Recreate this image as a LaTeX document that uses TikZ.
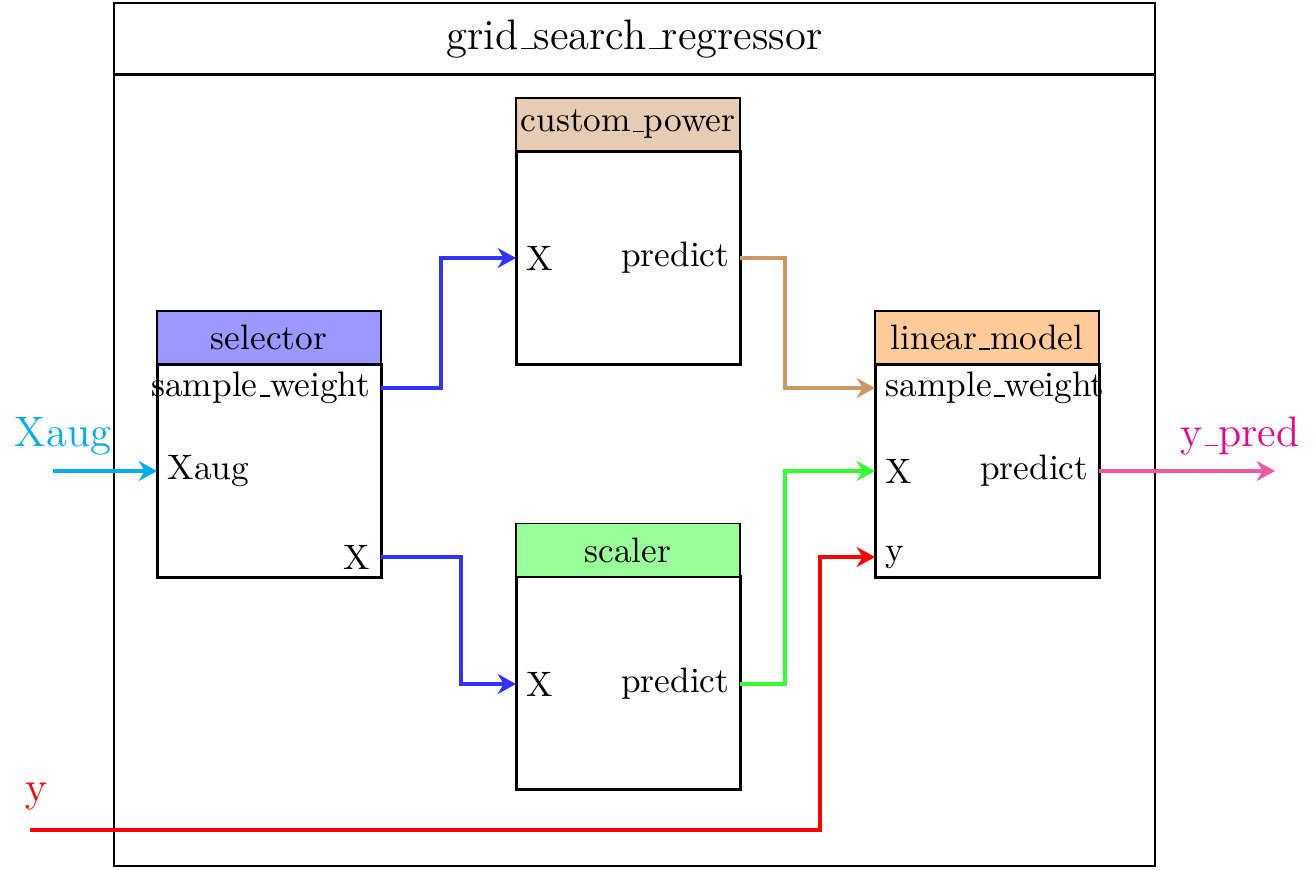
\documentclass[tikz,border=0pt]{standalone}
\usetikzlibrary{arrows.meta}
\definecolor{cyanp}{RGB}{0,174,239}
\definecolor{magp}{RGB}{236,0,140}
\definecolor{pinkarrow}{RGB}{238,90,160}
\newcommand{\us}{\leavevmode\kern.06em\vbox{\hrule width.3em}}
\begin{document}
\begin{tikzpicture}[x=0.3pt,y=-0.3pt,
  every node/.style={font=\fontsize{10.6}{12.7}\selectfont},
  big/.style={font=\fontsize{12.8}{15.4}\selectfont},
  body/.style={draw,line width=0.9pt,minimum width=67.2pt,minimum height=63.9pt,inner sep=0pt},
  head/.style={draw,line width=0.4pt,minimum width=67.2pt,minimum height=15.9pt,inner sep=0pt},
  pl/.style={anchor=west,inner sep=3pt},
  pr/.style={anchor=east,inner sep=3pt},
  conn/.style={line width=1.2pt,-{Stealth[length=5.5pt,width=6pt,inset=1.8pt]}}]
\useasboundingbox (0,0) rectangle (1314,869);
% outer box
\draw[line width=0.6pt] (114,3) rectangle (1155,866);
\coordinate (tl) at (114,74.5);
\coordinate (tr) at (1155,74.5);
\draw[line width=1pt] (tl) -- (tr);
\node[big] (title) at (634.5,39) {grid\us search\us regressor};
% blocks
\node[body] (sel) at (269,470.5) {};
\node[head,fill=blue!40] (selh) at (269,337.5) {selector};
\node[body] (cp) at (628,257.5) {};
\node[head,fill=brown!40] (cph) at (628,124.5) {custom\us power};
\node[body] (sc) at (628,683) {};
\node[head,fill=green!40] (sch) at (628,550) {scaler};
\node[body] (lm) at (987,470.5) {};
\node[head,fill=orange!40] (lmh) at (987,337.5) {linear\us model};
% ports
\node[pr] (selsw) at (381,388) {sample\us weight};
\node[pl] (selxa) at (157,471) {Xaug};
\node[pr] (selx) at (381,557) {X};
\node[pl] (cpx) at (516,258) {X};
\node[pr] (cpp) at (740,258) {predict};
\node[pl] (scx) at (516,684) {X};
\node[pr] (scp) at (740,684) {predict};
\node[pl] (lmsw) at (875,388) {sample\us weight};
\node[pl] (lmx) at (875,471) {X};
\node[pl] (lmy) at (875,557) {y};
\node[pr] (lmp) at (1099,471) {predict};
% external
\coordinate (xin) at (53,471);
\coordinate (yin) at (30,830);
\coordinate (yout) at (1275,471);
\node[big,text=cyanp] (xlab) at (63,436) {Xaug};
\node[big,text=red] (ylab) at (37,797) {y};
\node[big,text=magp] (yplab) at (1240,436) {y\us pred};
% connectors
\draw[conn,cyanp] (xin) -- (selxa.west);
\draw[conn,blue!80] (selsw.east) -| (441,300) |- (cpx.west);
\draw[conn,blue!80] (selx.east) -| (461,600) |- (scx.west);
\draw[conn,brown!80] (cpp.east) -| (785,300) |- (lmsw.west);
\draw[conn,green!80] (scp.east) -| (785,600) |- (lmx.west);
\draw[conn,red] (yin) -| (820,700) |- (lmy.west);
\draw[conn,pinkarrow] (lmp.east) -- (yout);
\end{tikzpicture}
\end{document}
